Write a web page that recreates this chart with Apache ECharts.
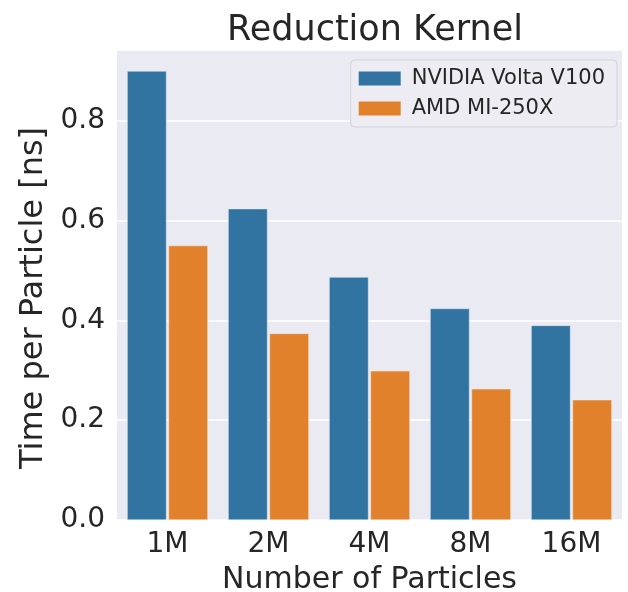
<!DOCTYPE html>
<html>
<head>
<meta charset="utf-8">
<script src="https://cdn.jsdelivr.net/npm/echarts@6/dist/echarts.min.js"></script>
<style>html,body{margin:0;padding:0;background:#fff;}#c{width:628px;height:592px;}</style>
</head>
<body>
<div id="c"></div>
<script>
const categories = ['1M', '2M', '4M', '8M', '16M'];
const nvidiaValues = [0.90, 0.624, 0.487, 0.424, 0.39];
const amdValues = [0.55, 0.374, 0.299, 0.263, 0.241];
const seriesNames = ['NVIDIA Volta V100', 'AMD MI-250X'];
const yTicks = [0, 0.2, 0.4, 0.6, 0.8];

const FONT = '"DejaVu Sans", sans-serif';
const TXT = '#262626';
const chart = echarts.init(document.getElementById('c'), null, {renderer: 'canvas'});
chart.setOption({
  animation: false,
  backgroundColor: '#ffffff',
  title: {
    text: 'Reduction Kernel',
    left: 370, top: 8, textAlign: 'center',
    textStyle: {fontFamily: FONT, fontSize: 35, fontWeight: 'normal', color: TXT}
  },
  legend: {
    data: seriesNames,
    orient: 'vertical',
    right: 11, top: 60,
    itemWidth: 42, itemHeight: 14, itemGap: 9,
    icon: 'rect',
    padding: [8, 12, 8, 8],
    backgroundColor: '#ECECF2',
    borderColor: '#D3D3D8', borderWidth: 1, borderRadius: 4,
    textStyle: {fontFamily: FONT, fontSize: 21, color: TXT, padding: [0, 0, 0, 6]},
    itemStyle: {borderWidth: 0}
  },
  grid: {left: 117, right: 6, top: 50, bottom: 72, containLabel: false,
    outerBoundsMode: 'none',
    show: true, backgroundColor: '#EAEAF2', borderWidth: 0},
  xAxis: {
    type: 'category', data: categories,
    name: 'Number of Particles', nameLocation: 'middle', nameGap: 45,
    nameTextStyle: {fontFamily: FONT, fontSize: 30, color: TXT},
    axisLine: {show: false}, axisTick: {show: false},
    axisLabel: {fontFamily: FONT, fontSize: 28, color: TXT, margin: 11},
    splitLine: {show: false}
  },
  yAxis: {
    type: 'value', min: 0, max: 0.942, interval: 0.2,
    name: 'Time per Particle [ns]', nameLocation: 'middle', nameGap: 66,
    nameTextStyle: {fontFamily: FONT, fontSize: 32, color: TXT, padding: [0, 26, 0, 0]},
    axisLine: {show: false}, axisTick: {show: false},
    axisLabel: {fontFamily: FONT, fontSize: 28, color: TXT, margin: 12,
      showMaxLabel: false,
      formatter: v => yTicks.some(t => Math.abs(t - v) < 1e-9) ? v.toFixed(1) : ''},
    splitLine: {show: true, lineStyle: {color: '#ffffff', width: 1.5}}
  },
  series: [
    {name: seriesNames[0], type: 'bar', data: nvidiaValues,
     barCategoryGap: '20%', barGap: '5%',
     itemStyle: {color: '#3274A1', borderColor: '#e8eef5', borderWidth: 0.5}},
    {name: seriesNames[1], type: 'bar', data: amdValues,
     itemStyle: {color: '#E1812C', borderColor: '#f5ece4', borderWidth: 0.5}}
  ]
});
</script>
</body>
</html>
